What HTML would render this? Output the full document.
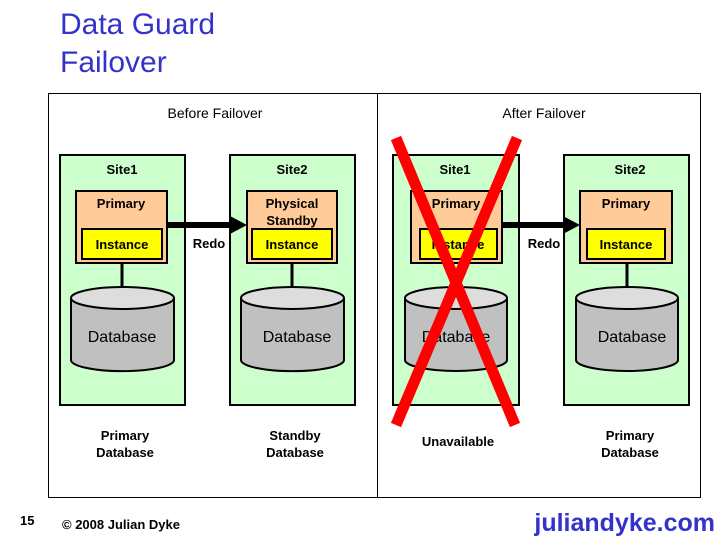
<!DOCTYPE html>
<html><head><style>
body{margin:0;width:720px;height:540px;background:#fff;position:relative;overflow:hidden;font-family:"Liberation Sans",sans-serif}
.t{position:absolute;white-space:nowrap}
</style></head><body>
<div class="t" style="left:60px;top:6px;font-size:30px;line-height:38px;color:#3333cc">Data Guard<br>Failover</div>
<svg width="720" height="540" style="position:absolute;left:0;top:0" font-family="Liberation Sans, sans-serif">
<rect x="48.5" y="93.5" width="652" height="404" fill="none" stroke="#000" stroke-width="1"/>
<line x1="377.5" y1="94" x2="377.5" y2="497" stroke="#000"/>
<text x="215" y="118" font-size="14" text-anchor="middle">Before Failover</text>
<text x="544" y="118" font-size="14" text-anchor="middle">After Failover</text>
<g stroke="#000" stroke-width="2">
<rect x="60" y="155" width="125" height="250" fill="#ccffcc"/>
<rect x="230" y="155" width="125" height="250" fill="#ccffcc"/>
<rect x="393" y="155" width="126" height="250" fill="#ccffcc"/>
<rect x="564" y="155" width="125" height="250" fill="#ccffcc"/>
<rect x="76" y="191" width="91" height="72" fill="#ffcc99"/>
<rect x="247" y="191" width="90" height="72" fill="#ffcc99"/>
<rect x="411" y="191" width="91" height="72" fill="#ffcc99"/>
<rect x="580" y="191" width="92" height="72" fill="#ffcc99"/>
<rect x="82" y="229" width="80" height="30" fill="#ffff00"/>
<rect x="252" y="229" width="80" height="30" fill="#ffff00"/>
<rect x="420" y="229" width="77" height="30" fill="#ffff00"/>
<rect x="587" y="229" width="78" height="30" fill="#ffff00"/>
<line x1="122" y1="263" x2="122" y2="289" stroke-width="3"/>
<line x1="292" y1="263" x2="292" y2="289" stroke-width="3"/>
<line x1="627" y1="263" x2="627" y2="289" stroke-width="3"/>
</g>
<g stroke="#000" stroke-width="2" fill="#c0c0c0">
<path d="M71 298 V360 A51 11 0 0 0 174 360 V298"/><ellipse cx="122.5" cy="298" rx="51.5" ry="11" fill="#dddddd"/>
<path d="M241 298 V360 A51 11 0 0 0 344 360 V298"/><ellipse cx="292.5" cy="298" rx="51.5" ry="11" fill="#dddddd"/>
<path d="M405 298 V360 A51 11 0 0 0 507 360 V298"/><ellipse cx="456" cy="298" rx="51" ry="11" fill="#dddddd"/>
<path d="M576 298 V360 A51 11 0 0 0 678 360 V298"/><ellipse cx="627" cy="298" rx="51" ry="11" fill="#dddddd"/>
</g>
<line x1="167" y1="225" x2="233" y2="225" stroke="#000" stroke-width="6"/>
<polygon points="230,216 247,225 230,234" fill="#000"/>
<line x1="502" y1="225" x2="566" y2="225" stroke="#000" stroke-width="6"/>
<polygon points="563,216 580,225 563,234" fill="#000"/>
<g font-size="13" font-weight="bold" text-anchor="middle" fill="#000">
<text x="122" y="174">Site1</text><text x="292" y="174">Site2</text>
<text x="455" y="174">Site1</text><text x="630" y="174">Site2</text>
<text x="121" y="208">Primary</text><text x="292" y="208">Physical</text><text x="292" y="225">Standby</text>
<text x="456" y="208">Primary</text><text x="626" y="208">Primary</text>
<text x="122" y="249">Instance</text><text x="292" y="249">Instance</text>
<text x="458" y="249">Instance</text><text x="626" y="249">Instance</text>
<text x="209" y="248">Redo</text><text x="544" y="248">Redo</text>
<text x="125" y="440">Primary</text><text x="125" y="457">Database</text>
<text x="295" y="440">Standby</text><text x="295" y="457">Database</text>
<text x="458" y="446">Unavailable</text>
<text x="630" y="440">Primary</text><text x="630" y="457">Database</text>
</g>
<g font-size="16" text-anchor="middle" fill="#000">
<text x="122" y="342">Database</text><text x="297" y="342">Database</text>
<text x="456" y="342">Database</text><text x="632" y="342">Database</text>
</g>
<g stroke="#ff0000" stroke-width="11">
<line x1="396" y1="138" x2="515" y2="425"/>
<line x1="517" y1="138" x2="396" y2="425"/>
</g>
<text x="20" y="525" font-size="13" font-weight="bold">15</text>
<text x="62" y="529" font-size="13" font-weight="bold">© 2008 Julian Dyke</text>
<text x="715" y="531" font-size="25" font-weight="bold" fill="#3333cc" text-anchor="end">juliandyke.com</text>
</svg>
</body></html>
